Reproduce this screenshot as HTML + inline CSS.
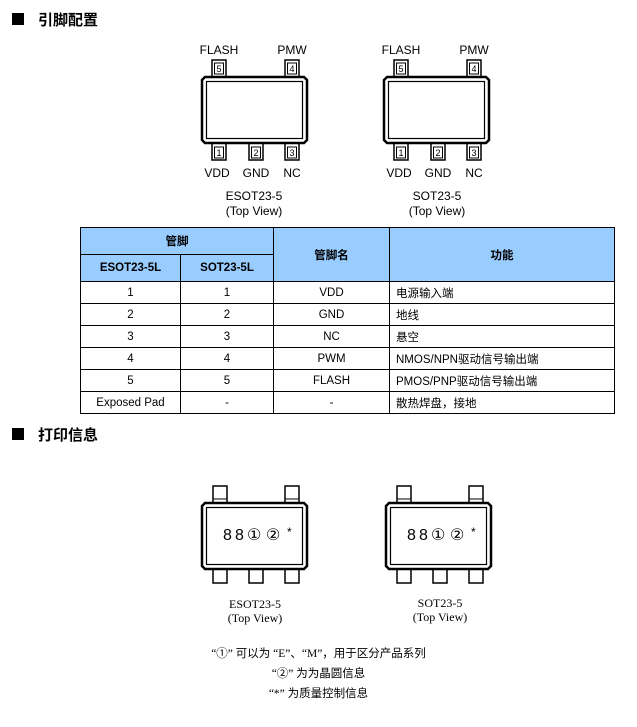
<!DOCTYPE html>
<html><head><meta charset="utf-8"><style>
body{margin:0;width:637px;height:727px;background:#fff;position:relative;overflow:hidden;font-family:"Liberation Sans","Noto Sans CJK SC",sans-serif;color:#000}
.a{position:absolute;white-space:nowrap}
.h{font-weight:bold;font-size:15px}
.sq{position:absolute;width:12px;height:12px;background:#000}
table{position:absolute;left:80px;top:227px;border-collapse:collapse;font-size:11.5px}
td{border:1px solid #000;text-align:center;padding:0;height:21px}
.hd{background:#99ccff;font-weight:bold}
.l{text-align:left;padding-left:6px}
.s{font-family:"Liberation Serif","Noto Sans CJK SC",serif;font-size:11.5px}
</style></head><body>
<div class="sq" style="left:12px;top:13px"></div><div class="a h" style="left:38px;top:9px">引脚配置</div>
<div class="sq" style="left:12px;top:428px"></div><div class="a h" style="left:38px;top:424px">打印信息</div>

<svg width="637" height="727" style="position:absolute;left:0;top:0" font-family="Liberation Sans, sans-serif">
<defs>
<g id="pin"><rect x="0" y="0" width="14" height="17" fill="#fff" stroke="#000" stroke-width="1.5"/></g>
<g id="body"><polygon points="3,0 102,0 105,3 105,63 102,66 3,66 0,63 0,3" fill="#fff" stroke="#000" stroke-width="2.5"/><rect x="4.5" y="4.5" width="96" height="57" fill="none" stroke="#000" stroke-width="1.2"/></g>
<g id="chipA">
 <use href="#pin" x="10" y="-17"/><use href="#pin" x="83" y="-17"/>
 <use href="#pin" x="10" y="66"/><use href="#pin" x="47" y="66"/><use href="#pin" x="83" y="66"/>
 <use href="#body"/>
 <g font-size="9" text-anchor="middle">
 <rect x="12.5" y="-14" width="9" height="11" fill="none" stroke="#000"/><text x="17" y="-5">5</text>
 <rect x="85.5" y="-14" width="9" height="11" fill="none" stroke="#000"/><text x="90" y="-5">4</text>
 <rect x="12.5" y="70" width="9" height="11" fill="none" stroke="#000"/><text x="17" y="79">1</text>
 <rect x="49.5" y="70" width="9" height="11" fill="none" stroke="#000"/><text x="54" y="79">2</text>
 <rect x="85.5" y="70" width="9" height="11" fill="none" stroke="#000"/><text x="90" y="79">3</text>
 </g>
 <g font-size="12" text-anchor="middle">
 <text x="17" y="-23">FLASH</text><text x="90" y="-23">PMW</text>
 <text x="15" y="100">VDD</text><text x="54" y="100">GND</text><text x="90" y="100">NC</text>
 </g>
</g>
<g id="chipB">
 <use href="#pin" x="11" y="-17"/><use href="#pin" x="83" y="-17"/>
 <line x1="11" y1="-4" x2="25" y2="-4" stroke="#000"/><line x1="83" y1="-4" x2="97" y2="-4" stroke="#000"/>
 <use href="#pin" x="11" y="63"/><use href="#pin" x="47" y="63"/><use href="#pin" x="83" y="63"/>
 <use href="#body"/>
 <g font-size="16"><text x="21" y="37">8</text><text x="33" y="37">8</text><text x="45" y="37">①</text><text x="64" y="37">②</text></g>
 <text x="85" y="33" font-size="12">*</text>
</g>
</defs>
<use href="#chipA" x="202" y="77"/>
<use href="#chipA" x="384" y="77"/>
<g font-size="12" text-anchor="middle">
<text x="254" y="200">ESOT23-5</text><text x="254" y="215">(Top View)</text>
<text x="437" y="200">SOT23-5</text><text x="437" y="215">(Top View)</text>
</g>
<use href="#chipB" x="202" y="503"/>
<use href="#chipB" x="386" y="503"/>
<g font-size="12" text-anchor="middle" font-family="Liberation Serif, serif">
<text x="255" y="608">ESOT23-5</text><text x="255" y="622">(Top View)</text>
<text x="440" y="607">SOT23-5</text><text x="440" y="621">(Top View)</text>
</g>
</svg>

<table>
<tr class="hd"><td colspan="2" style="height:26px">管脚</td><td rowspan="2" style="width:115px">管脚名</td><td rowspan="2" style="width:224px">功能</td></tr>
<tr class="hd"><td style="width:99px;height:26px">ESOT23-5L</td><td style="width:92px">SOT23-5L</td></tr>
<tr><td>1</td><td>1</td><td>VDD</td><td class="l">电源输入端</td></tr>
<tr><td>2</td><td>2</td><td>GND</td><td class="l">地线</td></tr>
<tr><td>3</td><td>3</td><td>NC</td><td class="l">悬空</td></tr>
<tr><td>4</td><td>4</td><td>PWM</td><td class="l">NMOS/NPN驱动信号输出端</td></tr>
<tr><td>5</td><td>5</td><td>FLASH</td><td class="l">PMOS/PNP驱动信号输出端</td></tr>
<tr><td>Exposed Pad</td><td>-</td><td>-</td><td class="l">散热焊盘，接地</td></tr>
</table>

<div class="a s" style="left:0;width:637px;text-align:center;top:645px">“①” 可以为 “E”、“M”，用于区分产品系列</div>
<div class="a s" style="left:0;width:637px;text-align:center;top:665px">“②” 为为晶圆信息</div>
<div class="a s" style="left:0;width:637px;text-align:center;top:685px">“*” 为质量控制信息</div>
</body></html>
